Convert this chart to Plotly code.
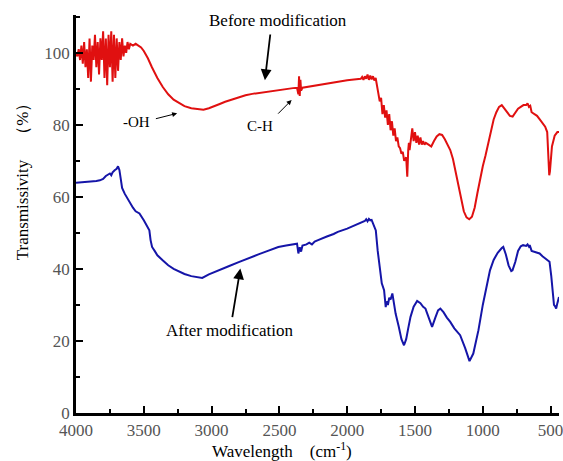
import plotly.graph_objects as go

# Before modification (red)
before_x = [4000, 3990, 3980, 3970, 3960, 3950, 3940, 3930, 3920, 3910, 3900, 3890, 3880, 3870,
            3860, 3850, 3840, 3830, 3820, 3810, 3800, 3790, 3780, 3770, 3760, 3750, 3740, 3730,
            3720, 3710, 3700, 3690, 3680, 3670, 3660, 3650, 3640, 3630, 3620, 3610, 3600, 3580,
            3560, 3540, 3520, 3500, 3470, 3440, 3400, 3360, 3320, 3280, 3240, 3200, 3150, 3100,
            3060, 3020, 2980, 2940, 2900, 2850, 2800, 2750, 2700, 2650, 2600, 2550, 2500, 2450,
            2400, 2370, 2360, 2355, 2350, 2345, 2340, 2330, 2300, 2250, 2200, 2150, 2100, 2050,
            2000, 1950, 1900, 1890, 1880, 1870, 1860, 1850, 1840, 1830, 1820, 1810, 1800, 1790,
            1780, 1770, 1760, 1750, 1740, 1730, 1720, 1710, 1700, 1690, 1680, 1670, 1660, 1650,
            1640, 1630, 1620, 1610, 1600, 1590, 1580, 1565, 1557, 1550, 1545, 1540, 1530, 1520,
            1510, 1500, 1490, 1480, 1470, 1460, 1450, 1440, 1430, 1420, 1400, 1380, 1360, 1340,
            1320, 1300, 1280, 1260, 1240, 1220, 1200, 1180, 1160, 1140, 1120, 1100, 1080, 1060,
            1040, 1020, 1000, 980, 960, 940, 920, 900, 880, 860, 840, 820, 800, 780, 760, 740,
            720, 700, 680, 670, 660, 650, 640, 620, 600, 580, 560, 540, 525, 515, 510, 505, 500,
            490, 470, 450, 438]
before_y = [100, 99, 101, 98, 102, 97, 103, 96, 101, 93, 104, 92, 102, 98,
            105, 96, 103, 94, 104, 98, 106, 93, 104, 91, 105, 96, 106, 92,
            105, 93, 104, 95, 103, 98, 104, 99, 102, 100, 103, 101, 102.5, 102,
            102.5, 102, 101.5, 100.5, 98.5, 96, 93, 90.5, 88.5, 87, 86, 85.2, 84.6, 84.3,
            84.2, 84.6, 85.3, 85.8, 86.4, 87, 87.7, 88.2, 88.6, 88.9, 89.2, 89.5, 89.8, 90,
            90.2, 90.3, 88.5, 93.5, 88, 92.5, 89.5, 90.3, 90.5, 90.8, 91.2, 91.6, 91.9, 92.2,
            92.4, 92.6, 92.8, 93.3, 92.5, 93.5, 92.8, 94, 92.5, 93.7, 92.6, 93.5, 92.3, 93,
            90.5, 89, 86.5, 87.5, 83, 85.5, 82, 84, 80, 83, 78.5, 81, 77, 79,
            75.5, 76.5, 74, 73.5, 72, 72.5, 70, 71, 65.6, 73, 75, 73, 77, 79,
            75.5, 78, 75, 77, 74.5, 76.5, 74.5, 75.5, 74.5, 75, 74.5, 74, 75.5, 76.8,
            77.4, 77.2, 76, 74.5, 73, 70.5, 67, 63, 59, 56, 54.3, 53.8, 54.5, 57,
            61, 65, 68.5, 71.5, 75, 78.5, 81.5, 83.5, 85, 85.5, 84.5, 83.5, 82.5, 82.3, 83.5, 84.5,
            85, 85.5, 85.5, 86, 85, 85.3, 83.5, 83, 82.5, 81.5, 80.5, 79.5, 78, 72, 66, 67, 70,
            74, 77, 78, 78]

# After modification (blue)
after_x = [4000, 3950, 3900, 3850, 3824, 3800, 3780, 3760, 3750, 3740, 3730, 3715, 3700, 3690,
           3680, 3670, 3660, 3641, 3620, 3600, 3580, 3560, 3532, 3500, 3470, 3459, 3450, 3439,
           3420, 3400, 3361, 3320, 3280, 3239, 3200, 3150, 3100, 3069, 3020, 2971, 2920, 2870,
           2800, 2750, 2700, 2650, 2600, 2550, 2508, 2450, 2400, 2370, 2360, 2350, 2340, 2330,
           2300, 2280, 2260, 2240, 2215, 2180, 2150, 2100, 2069, 2000, 1950, 1900, 1870, 1860,
           1850, 1840, 1830, 1820, 1810, 1800, 1789, 1775, 1760, 1745, 1728, 1720, 1716, 1710,
           1700, 1690, 1680, 1667, 1655, 1643, 1620, 1600, 1581, 1565, 1550, 1533, 1510, 1484,
           1460, 1440, 1423, 1400, 1374, 1350, 1330, 1313, 1290, 1265, 1240, 1210, 1167, 1130,
           1098, 1070, 1050, 1032, 1000, 970, 947, 920, 890, 860, 849, 830, 810, 790, 781, 760,
           740, 720, 703, 680, 670, 660, 654, 640, 620, 600, 581, 560, 540, 520, 508, 495, 485,
           475, 465, 459, 450, 438]
after_y = [63.9, 64, 64.2, 64.4, 64.6, 65, 65.8, 66.3, 66.5, 66, 66.8, 67.4, 67.8, 68.5,
           67.5, 65, 62.5, 60.9, 59.5, 58.2, 57, 56, 55.4, 53.5, 51.5, 50.7, 48, 46.1,
           45, 43.8, 42.4, 41, 40, 39.2, 38.6, 38, 37.6, 37.5, 38.5, 39.2, 40, 40.8,
           41.9, 42.7, 43.4, 44.1, 44.8, 45.5, 46.1, 46.5, 46.8, 47, 44.3, 46, 44.8, 46.5,
           46.8, 47.3, 46.8, 47.6, 48, 48.6, 49, 49.7, 50.3, 51.2, 52, 52.8, 53.3, 53.8,
           53.2, 53.9, 53.5, 53.6, 52.8, 52, 50.7, 45, 40, 36, 34.1, 30.5, 29.4, 31,
           30, 32, 31.5, 33.2, 30, 27.6, 24, 20.5, 18.8, 20.5, 23.5, 26.7, 29.5, 31.1,
           30.5, 29.5, 29, 26.5, 23.9, 26.5, 28.5, 29, 28, 26.5, 25.3, 23.5, 21.6, 18,
           14.4, 16.5, 20, 23, 30, 36, 39.6, 42.5, 44.5, 45.8, 46.1, 44, 41, 39.4, 39.6, 42,
           45, 46.3, 46.6, 46.4, 46.8, 46.2, 46.6, 45, 44.8, 44.5, 44.3, 43.5, 43, 42.4, 42, 38, 33,
           30, 29.5, 29, 30.5, 32.2]

x_ticks = [4000, 3500, 3000, 2500, 2000, 1500, 1000, 500]
y_ticks = [0, 20, 40, 60, 80, 100]

SERIF = "Liberation Serif, Times New Roman, serif"

fig = go.Figure()
fig.add_trace(go.Scatter(x=before_x, y=before_y, mode="lines",
                         line=dict(color="#e01010", width=2), showlegend=False))
fig.add_trace(go.Scatter(x=after_x, y=after_y, mode="lines",
                         line=dict(color="#1515a8", width=2), showlegend=False))

axis_common = dict(showgrid=False, zeroline=False, showline=True, linecolor="black",
                   linewidth=2.5, ticks="inside", ticklen=7, tickwidth=2, tickcolor="black",
                   tickfont=dict(family=SERIF, size=17, color="#555"))

fig.update_xaxes(range=[4000, 438], tickvals=x_ticks, ticklabeloverflow="allow", **axis_common,
                 minor=dict(ticks="inside", ticklen=4, tickwidth=2, tickcolor="black", dtick=250, tick0=0))
fig.update_yaxes(range=[0, 110.5], tickvals=y_ticks, **axis_common,
                 minor=dict(ticks="inside", ticklen=4, tickwidth=2, tickcolor="black", dtick=10, tick0=0))

txt = dict(family=SERIF, size=17, color="black")
small = dict(family=SERIF, size=15, color="black")
annotations = [
    dict(x=2508, y=109.1, text="Before modification", showarrow=False, font=txt),
    dict(x=2866, y=23, text="After modification", showarrow=False, font=txt),
    dict(x=3554, y=80.7, text="-OH", showarrow=False, font=small),
    dict(x=2640, y=79.6, text="C-H", showarrow=False, font=small),
    dict(x=2607, y=92.4, ax=2566, ay=105.5, axref="x", ayref="y", text="", showarrow=True,
         arrowhead=2, arrowsize=1.2, arrowwidth=1.8, arrowcolor="black"),
    dict(x=2788, y=40.1, ax=2849, ay=26.2, axref="x", ayref="y", text="", showarrow=True,
         arrowhead=2, arrowsize=1.2, arrowwidth=1.8, arrowcolor="black"),
    dict(x=3254, y=83.2, ax=3422, ay=81.6, axref="x", ayref="y", text="", showarrow=True,
         arrowhead=2, arrowsize=1, arrowwidth=1, arrowcolor="black"),
    dict(x=2410, y=86.9, ax=2520, ay=82.7, axref="x", ayref="y", text="", showarrow=True,
         arrowhead=2, arrowsize=1, arrowwidth=1, arrowcolor="black"),
    dict(x=-0.1115, xref="paper", xanchor="center", y=65.5, yref="y",
         text="Transmissivity　（%）", textangle=-90, showarrow=False, font=txt),
    dict(x=2480, y=-0.094, yref="paper", xanchor="center", yanchor="middle",
         text="Wavelength　(cm<sup>-1</sup>)", showarrow=False, font=txt),
]
fig.update_layout(width=563, height=461, margin=dict(l=76, r=0, t=15, b=48),
                  plot_bgcolor="white", paper_bgcolor="white", annotations=annotations)

fig.write_html("out.html")
